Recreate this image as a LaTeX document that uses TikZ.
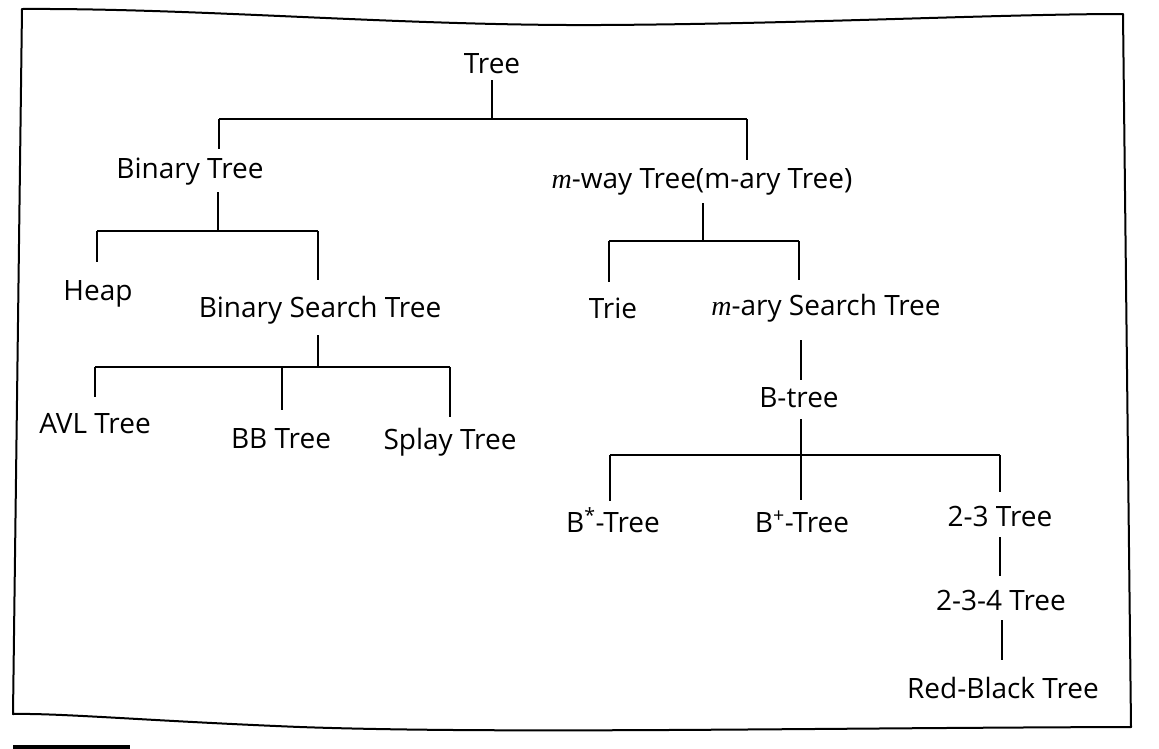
\documentclass[tikz,border=0pt]{standalone}
\usepackage{fontspec}
\setmainfont{Open Sans}
\newfontfamily\mfont{Liberation Serif}
\newcommand{\mvar}{{\mfont\itshape m}}
\begin{document}
\begin{tikzpicture}[x=1pt,y=-1pt,
  lbl/.style={font=\fontsize{28}{34}\selectfont, inner sep=0pt, anchor=base},
  conn/.style={line width=1.4pt, line cap=butt},
  frame/.style={line width=2pt, line join=round}]
\useasboundingbox (0,0) rectangle (1159,748);
\fill[white] (0,0) rectangle (1159,748);

% frame
\draw[frame] (22,9) .. controls (200,8) and (400,26) .. (600,25)
  .. controls (800,24) and (1000,14) .. (1123,14)
  -- (1131,727)
  .. controls (800,728) and (500,734) .. (300,727)
  .. controls (150,721) and (60,713) .. (13,714) -- cycle;
\draw[line width=4pt] (13,747) -- (130,747);

% nodes
\node[lbl] (tree)  at (492,73)  {Tree};
\node[lbl] (bt)    at (190,178) {Binary Tree};
\node[lbl] (mw)    at (702,188) {\mvar-way Tree(m-ary Tree)};
\node[lbl] (heap)  at (98,300)  {Heap};
\node[lbl] (bst)   at (320,317) {Binary Search Tree};
\node[lbl] (trie)  at (613,318) {Trie};
\node[lbl] (mst)   at (826,315) {\mvar-ary Search Tree};
\node[lbl] (btree) at (799,407) {B-tree};
\node[lbl] (avl)   at (95,433)  {AVL Tree};
\node[lbl] (bb)    at (281,448) {BB Tree};
\node[lbl] (splay) at (450,449) {Splay Tree};
\node[lbl] (bstar) at (613,532) {B\textsuperscript{*}-Tree};
\node[lbl] (bplus) at (802,532) {B\textsuperscript{+}-Tree};
\node[lbl] (t23)   at (1000,526) {2-3 Tree};
\node[lbl] (t234)  at (1001,610) {2-3-4 Tree};
\node[lbl] (rb)    at (1003,698) {Red-Black Tree};

% junction coordinates
\coordinate (tree-s) at (492,80);
\coordinate (j1)  at (492,119);
\coordinate (j1l) at (219,119);
\coordinate (j1r) at (747,119);
\coordinate (bt-n) at (219,149);
\coordinate (mw-n) at (747,160);

\coordinate (bt-s) at (218,192);
\coordinate (j2)  at (218,231);
\coordinate (j2l) at (97,231);
\coordinate (j2r) at (318,231);
\coordinate (heap-n) at (97,262);
\coordinate (bst-n) at (318,280);

\coordinate (bst-s) at (318,335);
\coordinate (j3)  at (318,367);
\coordinate (j3l) at (95,367);
\coordinate (j3m) at (282,367);
\coordinate (j3r) at (450,367);
\coordinate (avl-n) at (95,397);
\coordinate (bb-n) at (282,410);
\coordinate (splay-n) at (450,417);

\coordinate (mw-s) at (703,203);
\coordinate (j4)  at (703,241);
\coordinate (j4l) at (609,241);
\coordinate (j4r) at (799,241);
\coordinate (trie-n) at (609,282);
\coordinate (mst-n) at (799,280);

\coordinate (mst-s) at (801,340);
\coordinate (btree-n) at (801,380);

\coordinate (btree-s) at (801,419);
\coordinate (j5)  at (801,455);
\coordinate (j5l) at (610,455);
\coordinate (j5r) at (1000,455);
\coordinate (bstar-n) at (610,501);
\coordinate (bplus-n) at (801,500);
\coordinate (t23-n) at (1000,492);

\coordinate (t23-s) at (1000,537);
\coordinate (t234-n) at (1000,576);
\coordinate (t234-s) at (1002,620);
\coordinate (rb-n) at (1002,660);

% connectors
\draw[conn] (tree-s) -- (j1);
\draw[conn] (j1l) -- (j1r);
\draw[conn] (j1l) -- (bt-n);
\draw[conn] (j1r) -- (mw-n);

\draw[conn] (bt-s) -- (j2);
\draw[conn] (j2l) -- (j2r);
\draw[conn] (j2l) -- (heap-n);
\draw[conn] (j2r) -- (bst-n);

\draw[conn] (bst-s) -- (j3);
\draw[conn] (j3l) -- (j3r);
\draw[conn] (j3l) -- (avl-n);
\draw[conn] (j3m) -- (bb-n);
\draw[conn] (j3r) -- (splay-n);

\draw[conn] (mw-s) -- (j4);
\draw[conn] (j4l) -- (j4r);
\draw[conn] (j4l) -- (trie-n);
\draw[conn] (j4r) -- (mst-n);

\draw[conn] (mst-s) -- (btree-n);

\draw[conn] (btree-s) -- (j5) -- (bplus-n);
\draw[conn] (j5l) -- (j5r);
\draw[conn] (j5l) -- (bstar-n);
\draw[conn] (j5r) -- (t23-n);

\draw[conn] (t23-s) -- (t234-n);
\draw[conn] (t234-s) -- (rb-n);
\end{tikzpicture}
\end{document}
